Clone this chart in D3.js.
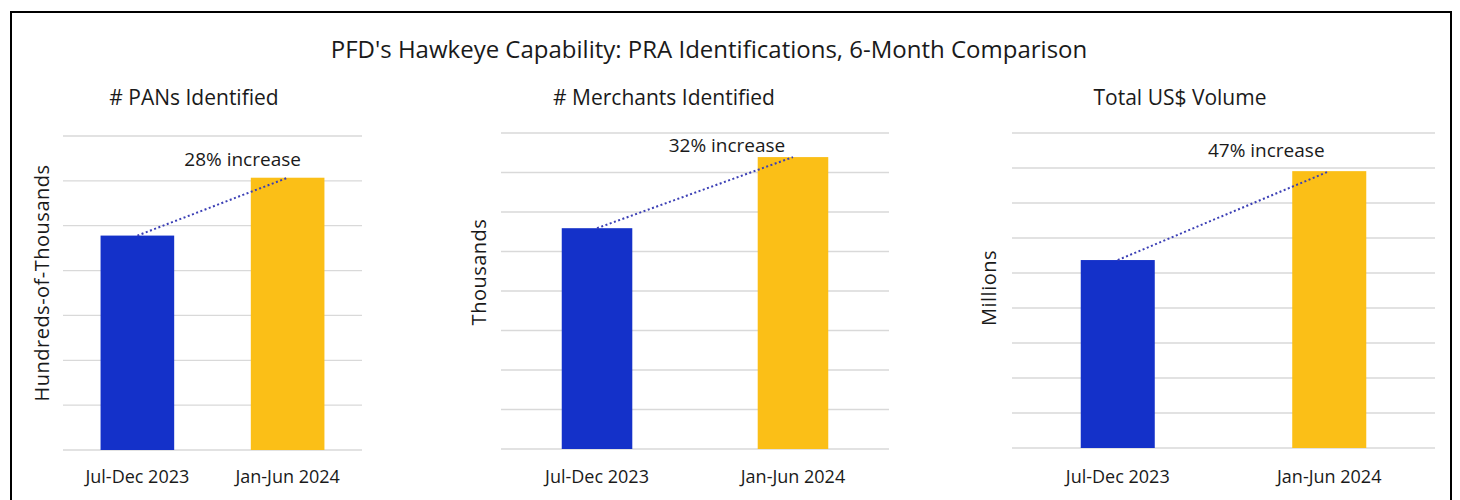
<!DOCTYPE html>
<html>
<head>
<meta charset="utf-8">
<script src="https://cdn.jsdelivr.net/npm/d3@7"></script>
<style>
  body { margin: 0; background: #fff; }
  svg text { font-family: "Open Sans", Lato, sans-serif; fill: #1a1a1a; }
</style>
</head>
<body>
<div id="chart"></div>
<script>
// data (units = gridline steps)
var periods = ['Jul-Dec 2023', 'Jan-Jun 2024'];
var pansValues = [4.78, 6.07];
var merchantValues = [5.59, 7.39];
var volumeValues = [5.37, 7.91];
var gridMax = [7, 8, 9];
var panelTitles = ['# PANs Identified', '# Merchants Identified', 'Total US$ Volume'];
var yLabels = ['Hundreds-of-Thousands', 'Thousands', 'Millions'];
var increaseLabels = ['28% increase', '32% increase', '47% increase'];
var barColors = ['#1431c9', '#fbbf17'];

var width = 1460, height = 500;

var svg = d3.select('#chart').append('svg')
    .attr('width', width)
    .attr('height', height);

// frame
svg.append('rect')
    .attr('x', 11).attr('y', 12)
    .attr('width', 1440).attr('height', 520)
    .attr('fill', 'none')
    .attr('stroke', '#000')
    .attr('stroke-width', 2);

svg.append('text')
    .attr('x', 709).attr('y', 58)
    .attr('text-anchor', 'middle')
    .style('font-size', '24px')
    .text("PFD's Hawkeye Capability: PRA Identifications, 6-Month Comparison");

// layout of each small chart
var panels = [
    { values: pansValues, x0: 63, x1: 362, top: 136, bottom: 450, pIn: 0.51, pOut: 0.25, yLabX: 42, yLabY: 283, titleX: 194, annDx: -45, annDy: -12 },
    { values: merchantValues, x0: 501, x1: 889, top: 133, bottom: 449, pIn: 0.64, pOut: 0.31, yLabX: 479, yLabY: 272, titleX: 664, annDx: -66, annDy: -5 },
    { values: volumeValues, x0: 1012, x1: 1435, top: 133, bottom: 448, pIn: 0.65, pOut: 0.325, yLabX: 989, yLabY: 288, titleX: 1180, annDx: -63, annDy: -14 }
];

panels.forEach(function(p, i) {
    var g = svg.append('g');

    var x = d3.scaleBand()
        .domain(periods)
        .range([p.x0, p.x1])
        .paddingInner(p.pIn)
        .paddingOuter(p.pOut);

    var y = d3.scaleLinear()
        .domain([0, gridMax[i]])
        .range([p.bottom, p.top]);

    // gridlines
    g.selectAll('line.grid')
        .data(y.ticks(gridMax[i]))
        .enter()
        .append('line')
        .attr('class', 'grid')
        .attr('x1', p.x0).attr('x2', p.x1)
        .attr('y1', function(d) { return y(d); })
        .attr('y2', function(d) { return y(d); })
        .attr('stroke', '#d9d9d9')
        .attr('stroke-width', 1.3);

    g.selectAll('rect.bar')
        .data(p.values)
        .enter()
        .append('rect')
        .attr('class', 'bar')
        .attr('x', function(d, j) { return x(periods[j]); })
        .attr('y', function(d) { return y(d); })
        .attr('width', x.bandwidth())
        .attr('height', function(d) { return y(0) - y(d); })
        .attr('fill', function(d, j) { return barColors[j]; });

    // x labels
    g.selectAll('text.xlab')
        .data(periods)
        .enter()
        .append('text')
        .attr('class', 'xlab')
        .attr('x', function(d) { return x(d) + x.bandwidth() / 2; })
        .attr('y', 483)
        .attr('text-anchor', 'middle')
        .style('font-size', '18px')
        .text(function(d) { return d; });

    // dotted trend line between bar tops
    var pts = p.values.map(function(d, j) {
        return [x(periods[j]) + x.bandwidth() / 2, y(d)];
    });
    g.append('path')
        .attr('d', d3.line()(pts))
        .attr('fill', 'none')
        .attr('stroke', '#3b3fb5')
        .attr('stroke-width', 2)
        .attr('stroke-dasharray', '2,2.5');

    g.append('text')
        .attr('x', pts[1][0] + p.annDx)
        .attr('y', pts[1][1] + p.annDy)
        .attr('text-anchor', 'middle')
        .style('font-size', '19px')
        .text(increaseLabels[i]);

    g.append('text')
        .attr('x', p.titleX).attr('y', 105)
        .attr('text-anchor', 'middle')
        .style('font-size', '21px')
        .text(panelTitles[i]);

    g.append('text')
        .attr('transform', 'translate(' + (p.yLabX + 7) + ',' + p.yLabY + ') rotate(-90)')
        .attr('text-anchor', 'middle')
        .style('font-size', '20px')
        .style('letter-spacing', '0.5px')
        .text(yLabels[i]);
});
</script>
</body>
</html>
